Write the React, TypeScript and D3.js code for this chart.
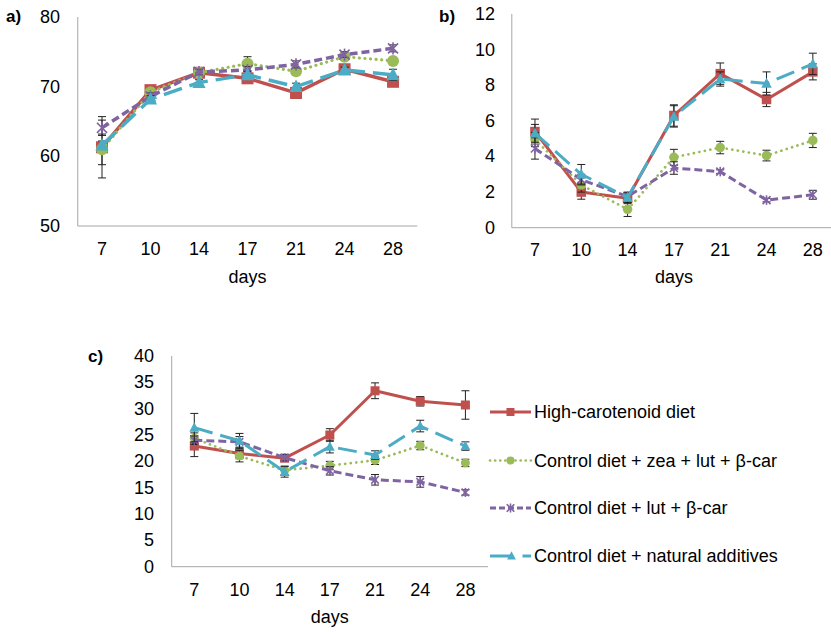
import React from 'react';
import * as d3 from 'd3';

const days = ['7', '10', '14', '17', '21', '24', '28'];
const seriesNames = [
  'High-carotenoid diet',
  'Control diet + zea + lut + β-car',
  'Control diet + lut + β-car',
  'Control diet + natural additives',
];

// Panel a
const aHigh = [61.3, 69.5, 72.0, 71.2, 69.1, 72.5, 70.7];
const aZea = [61.0, 69.2, 72.0, 73.3, 72.2, 74.3, 73.7];
const aLut = [64.1, 68.6, 72.1, 72.4, 73.2, 74.6, 75.5];
const aNat = [61.6, 68.2, 70.6, 71.7, 70.0, 72.4, 71.7];
const aHighErr = [4.4, 0.5, 0.5, 0.6, 0.8, 0.5, 0.5];
const aZeaErr = [2.2, 0.5, 0.4, 1.0, 0.6, 0.4, 0.5];
const aLutErr = [1.1, 0.5, 0.4, 0.5, 0.5, 0.4, 0.5];
const aNatErr = [0.6, 0.5, 0.4, 0.5, 0.5, 0.4, 0.8];
const aTicks = [50, 60, 70, 80];

// Panel b
const bHigh = [5.4, 2.0, 1.65, 6.3, 8.65, 7.2, 8.75];
const bZea = [4.95, 2.4, 1.03, 3.95, 4.5, 4.05, 4.9];
const bLut = [4.45, 2.7, 1.75, 3.35, 3.15, 1.55, 1.85];
const bNat = [5.3, 3.0, 1.7, 6.25, 8.35, 8.1, 9.2];
const bHighErr = [0.7, 0.4, 0.3, 0.6, 0.6, 0.4, 0.45];
const bZeaErr = [0.4, 0.4, 0.4, 0.45, 0.35, 0.3, 0.4];
const bLutErr = [0.6, 0.3, 0.2, 0.35, 0.1, 0.1, 0.25];
const bNatErr = [0.5, 0.55, 0.3, 0.6, 0.4, 0.65, 0.6];
const bTicks = [0, 2, 4, 6, 8, 10, 12];

// Panel c
const cHigh = [22.9, 21.5, 20.6, 25.0, 33.4, 31.4, 30.7];
const cZea = [24.4, 21.0, 18.3, 19.2, 20.2, 23.0, 19.7];
const cLut = [24.0, 23.7, 20.7, 18.2, 16.5, 16.1, 14.1];
const cNat = [26.4, 23.9, 18.0, 22.8, 21.2, 26.7, 22.9];
const cHighErr = [2.0, 1.0, 0.6, 1.2, 1.5, 0.9, 2.7];
const cZeaErr = [1.0, 1.1, 0.8, 0.8, 0.8, 0.8, 0.7];
const cLutErr = [0.8, 1.0, 0.6, 0.8, 1.0, 1.0, 0.5];
const cNatErr = [2.7, 1.4, 1.0, 1.2, 0.8, 1.1, 0.8];
const cTicks = [0, 5, 10, 15, 20, 25, 30, 35, 40];

const colors = ['#C0504D', '#9BBB59', '#8064A2', '#4BACC6'];
const dashes = [undefined, '0.1 5.5', '8 4', '19 8'];
const caps = ['butt', 'round', 'butt', 'butt'];
const FONT = 'Liberation Sans, Arial, Helvetica, sans-serif';
const FS = 18;

function Marker({ kind, x, y, s, color }: any) {
  if (kind === 0) return <rect x={x - s / 2} y={y - s / 2} width={s} height={s} fill={color} />;
  if (kind === 1) return <circle cx={x} cy={y} r={s / 2} fill={color} />;
  if (kind === 2) {
    const h = s * 0.42;
    return (
      <g stroke={color} strokeWidth={1.6}>
        <line x1={x - h} y1={y - h} x2={x + h} y2={y + h} />
        <line x1={x - h} y1={y + h} x2={x + h} y2={y - h} />
        <line x1={x} y1={y - h * 1.2} x2={x} y2={y + h * 1.2} />
      </g>
    );
  }
  const w = s * 1.1;
  return (
    <path d={`M${x},${y - s * 0.6} L${x + w / 2},${y + s * 0.45} L${x - w / 2},${y + s * 0.45} Z`} fill={color} />
  );
}

function Panel({ label, labelX, labelY, x0, x1, yTop, yBottom, domain, ticks, tickRight, series, errors, ms, lw, tickY, daysY }: any) {
  const x = d3.scaleBand().domain(days).range([x0, x1]);
  const y = d3.scaleLinear().domain(domain).range([yBottom, yTop]);
  const cx = (d: string) => (x(d) as number) + x.bandwidth() / 2;
  const line = d3.line<number>().x((_, i) => cx(days[i])).y((v) => y(v));
  return (
    <g fontFamily={FONT}>
      <text x={labelX} y={labelY} fontSize={17} fontWeight="bold">{label}</text>
      <line x1={x0} x2={x0} y1={yTop} y2={yBottom} stroke="#a6a6a6" strokeWidth={1} />
      <line x1={x0} x2={x1} y1={yBottom} y2={yBottom} stroke="#a6a6a6" strokeWidth={1} />
      {ticks.map((t: number) => (
        <text key={t} x={tickRight} y={y(t)} fontSize={FS} textAnchor="end" dominantBaseline="central">{t}</text>
      ))}
      {days.map((d) => (
        <text key={d} x={cx(d)} y={tickY} fontSize={FS} textAnchor="middle" dominantBaseline="central">{d}</text>
      ))}
      <text x={(x0 + x1) / 2} y={daysY} fontSize={FS} textAnchor="middle" dominantBaseline="central">days</text>
      {series.map((vals: number[], si: number) => (
        <g key={si}>
          {vals.map((v, i) => {
            const e = errors[si][i];
            const px = cx(days[i]);
            return (
              <g key={i} stroke="#222" strokeWidth={1}>
                <line x1={px} x2={px} y1={y(v - e)} y2={y(v + e)} />
                <line x1={px - 4} x2={px + 4} y1={y(v - e)} y2={y(v - e)} />
                <line x1={px - 4} x2={px + 4} y1={y(v + e)} y2={y(v + e)} />
              </g>
            );
          })}
          <path d={line(vals) as string} fill="none" stroke={colors[si]} strokeWidth={si === 1 ? lw * 0.9 : lw}
            strokeDasharray={dashes[si]} strokeLinecap={caps[si] as any} strokeLinejoin="round" />
          {vals.map((v, i) => (
            <Marker key={i} kind={si} x={cx(days[i])} y={y(v)} s={ms} color={colors[si]} />
          ))}
        </g>
      ))}
    </g>
  );
}

function Legend() {
  const rows = [412, 460.5, 508, 556];
  const lx0 = 490, lx1 = 531;
  return (
    <g fontFamily={FONT}>
      {seriesNames.map((name, i) => {
        const yy = rows[i];
        const mid = (lx0 + lx1) / 2;
        return (
          <g key={i}>
            {i === 3 ? (
              <g stroke={colors[3]} strokeWidth={3}>
                <line x1={lx0} x2={mid} y1={yy} y2={yy} />
                <line x1={mid + 12} x2={lx1} y1={yy} y2={yy} />
              </g>
            ) : (
              <line x1={lx0} x2={lx1} y1={yy} y2={yy} stroke={colors[i]} strokeWidth={i === 1 ? 2.7 : 3}
                strokeDasharray={i === 1 ? '0.1 5' : i === 2 ? '6 3' : undefined} strokeLinecap={caps[i] as any} />
            )}
            <Marker kind={i} x={i === 3 ? mid + 1 : mid} y={yy} s={i === 2 ? 9 : 8} color={colors[i]} />
            <text x={534} y={yy} fontSize={FS} dominantBaseline="central">{name}</text>
          </g>
        );
      })}
    </g>
  );
}

export default function App() {
  return (
    <svg width={831} height={632} style={{ position: 'absolute', left: 0, top: 0, background: '#fff' }}>
      <rect width={831} height={632} fill="#fff" />
      <Panel label="a)" labelX={6} labelY={22} x0={77.75} x1={417.3} yTop={17} yBottom={226} domain={[50, 80]}
        ticks={aTicks} tickRight={60} series={[aHigh, aZea, aLut, aNat]} errors={[aHighErr, aZeaErr, aLutErr, aNatErr]}
        ms={12} lw={3.5} tickY={249} daysY={277} />
      <Panel label="b)" labelX={439} labelY={22} x0={511.8} x1={836} yTop={14} yBottom={227.7} domain={[0, 12]}
        ticks={bTicks} tickRight={495} series={[bHigh, bZea, bLut, bNat]} errors={[bHighErr, bZeaErr, bLutErr, bNatErr]}
        ms={9.5} lw={3} tickY={250} daysY={277} />
      <Panel label="c)" labelX={88} labelY={362} x0={171.7} x1={488} yTop={356} yBottom={566.7} domain={[0, 40]}
        ticks={cTicks} tickRight={154} series={[cHigh, cZea, cLut, cNat]} errors={[cHighErr, cZeaErr, cLutErr, cNatErr]}
        ms={9} lw={3} tickY={590} daysY={617} />
      <Legend />
    </svg>
  );
}
